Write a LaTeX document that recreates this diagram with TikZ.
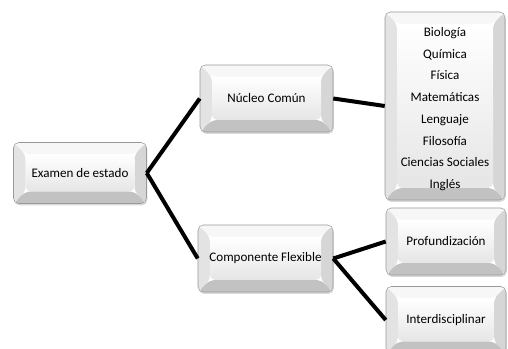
\documentclass[tikz,border=0pt]{standalone}
\usepackage{fontspec}
\setmainfont{Carlito}
\usetikzlibrary{shadows}

\tikzset{
  bevelbox/.style={rounded corners=4pt, draw=black!40, fill=white,
    drop shadow={opacity=0.3, shadow xshift=0.6pt, shadow yshift=-1.5pt},
    align=center, inner sep=0pt, font=\fontsize{9.8}{16.3}\selectfont,
    path picture={
      \coordinate (pa) at (path picture bounding box.north west);
      \coordinate (pb) at (path picture bounding box.north east);
      \coordinate (pc) at (path picture bounding box.south east);
      \coordinate (pd) at (path picture bounding box.south west);
      \coordinate (qa) at ([shift={(9pt,-9pt)}]pa);
      \coordinate (qb) at ([shift={(-9pt,-9pt)}]pb);
      \coordinate (qc) at ([shift={(-9pt,9pt)}]pc);
      \coordinate (qd) at ([shift={(9pt,9pt)}]pd);
      \fill[black!3] (pa) -- (pb) -- (qb) -- (qa) -- cycle;
      \fill[black!11] (pa) -- (qa) -- (qd) -- (pd) -- cycle;
      \fill[black!16] (pb) -- (pc) -- (qc) -- (qb) -- cycle;
      \fill[black!24] (pd) -- (qd) -- (qc) -- (pc) -- cycle;
      \shade[top color=white, bottom color=black!10] (qa) rectangle (qc);
    }},
  link/.style={line width=3pt, black}
}

\begin{document}
\begin{tikzpicture}[x=0.75pt,y=-0.75pt]
\useasboundingbox (0,0) rectangle (508,349);
% first level
\node[bevelbox, minimum width=99.75pt, minimum height=45.75pt] (exam) at (80,173) {Examen de estado};
% second level
\node[bevelbox, minimum width=99.75pt, minimum height=50.25pt] (nucleo) at (266.5,98.5) {Núcleo Común};
\node[bevelbox, minimum width=101.25pt, minimum height=50.25pt] (flexible) at (265.5,258.5) {Componente Flexible};
% third level
\node[bevelbox, minimum width=90pt, minimum height=141pt] (materias) at (445,106)
  {\rule{0pt}{11.5pt}Biología\\Química\\Física\\Matemáticas\\Lenguaje\\Filosofía\\Ciencias Sociales\\Inglés};
\node[bevelbox, minimum width=90pt, minimum height=50.25pt] (profund) at (446,241.5) {Profundización};
\node[bevelbox, minimum width=90pt, minimum height=50.25pt] (interdis) at (446,320) {Interdisciplinar};
% links
\draw[link] (exam.east) -- (nucleo.west);
\draw[link] (exam.east) -- (flexible.west);
\draw[link] (nucleo.east) -- (materias.west);
\draw[link] (flexible.east) -- (profund.west);
\draw[link] (flexible.east) -- (interdis.west);
\end{tikzpicture}
\end{document}
